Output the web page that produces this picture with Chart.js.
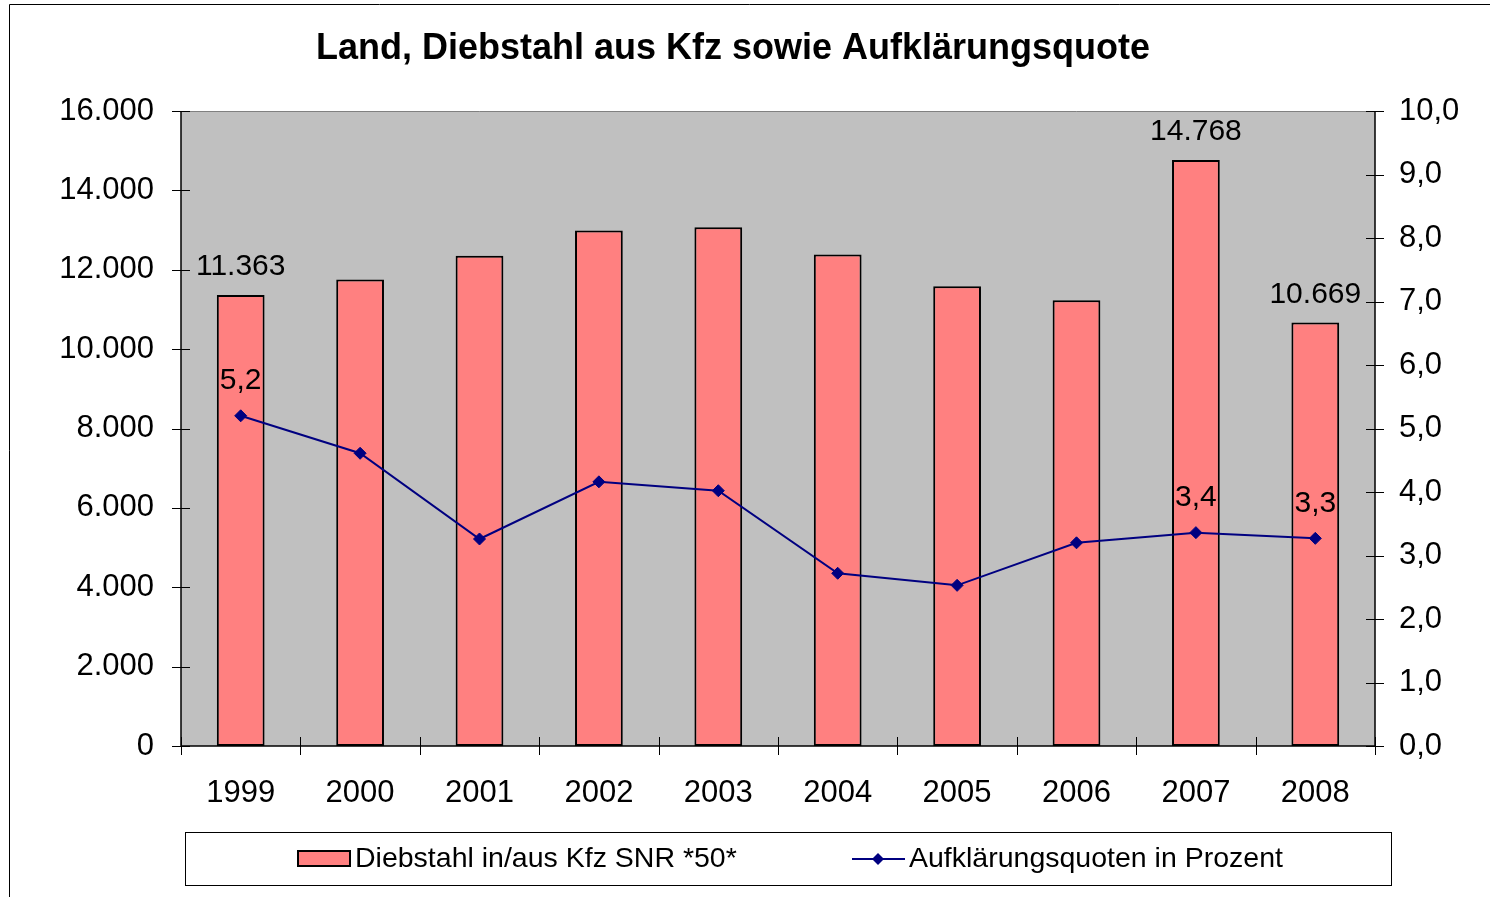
<!DOCTYPE html>
<html>
<head>
<meta charset="utf-8">
<script src="https://cdn.jsdelivr.net/npm/chart.js@4.4.1/dist/chart.umd.min.js"></script>
<style>
  body { margin: 0; background: #fff; }
  #wrap { width: 1490px; height: 897px; }
</style>
</head>
<body>
<div id="wrap"><canvas id="chart" width="1490" height="897"></canvas></div>
<script>
// data
const years = ['1999', '2000', '2001', '2002', '2003', '2004', '2005', '2006', '2007', '2008'];
const diebstahl = [11363, 11755, 12353, 12990, 13074, 12385, 11586, 11233, 14768, 10669];
const quote = [5.2, 4.61, 3.26, 4.16, 4.02, 2.72, 2.53, 3.2, 3.36, 3.27];
const labelledYears = ['1999', '2007', '2008'];
const leftTicks = [0, 2000, 4000, 6000, 8000, 10000, 12000, 14000, 16000];
const rightTicks = [0, 1, 2, 3, 4, 5, 6, 7, 8, 9, 10];

const titleText = 'Land, Diebstahl aus Kfz sowie Aufklärungsquote';
const barName = 'Diebstahl in/aus Kfz SNR *50*';
const lineName = 'Aufklärungsquoten in Prozent';

const FONT = '"Liberation Sans", Arial, sans-serif';
const BAR_FILL = '#FF8080';
const LINE_COL = '#000080';

const fmtThousands = (n) => String(n).replace(/\B(?=(\d{3})+(?!\d))/g, '.');
const fmtComma = (n) => n.toFixed(1).replace('.', ',');

// grey plot area, frame, title, legend box
const decor = {
  id: 'decor',
  beforeDraw(chart) {
    const { ctx, chartArea: a } = chart;
    ctx.save();
    ctx.fillStyle = '#fff';
    ctx.fillRect(0, 0, chart.width, chart.height);
    ctx.fillStyle = '#C0C0C0';
    ctx.fillRect(a.left, a.top, a.right - a.left, a.bottom - a.top);
    // outer chart frame
    ctx.strokeStyle = '#000';
    ctx.lineWidth = 1;
    ctx.beginPath();
    ctx.moveTo(9.5, 897);
    ctx.lineTo(9.5, 4.5);
    ctx.lineTo(1490, 4.5);
    ctx.stroke();
    // title
    ctx.fillStyle = '#000';
    ctx.font = 'bold 36px ' + FONT;
    ctx.textAlign = 'center';
    ctx.textBaseline = 'middle';
    ctx.fillText(titleText, 733, 49);
    ctx.restore();
  },
  afterDatasetsDraw(chart) {
    const { ctx, chartArea: a, scales } = chart;
    ctx.save();
    ctx.lineWidth = 1;
    // plot area top border
    ctx.strokeStyle = '#808080';
    ctx.beginPath();
    ctx.moveTo(a.left, a.top + 0.5);
    ctx.lineTo(a.right, a.top + 0.5);
    ctx.stroke();
    // axes
    ctx.strokeStyle = '#000';
    ctx.lineWidth = 1.5;
    ctx.beginPath();
    ctx.moveTo(a.left, a.top);
    ctx.lineTo(a.left, a.bottom);
    ctx.moveTo(a.right, a.top);
    ctx.lineTo(a.right, a.bottom);
    ctx.moveTo(a.left, a.bottom);
    ctx.lineTo(a.right, a.bottom);
    ctx.stroke();
    ctx.lineWidth = 1;
    ctx.beginPath();
    scales.y.ticks.forEach((t) => {
      const y = Math.round(scales.y.getPixelForValue(t.value)) + 0.5;
      ctx.moveTo(a.left - 9, y);
      ctx.lineTo(a.left + 9, y);
    });
    scales.y1.ticks.forEach((t) => {
      const y = Math.round(scales.y1.getPixelForValue(t.value)) + 0.5;
      ctx.moveTo(a.right - 9, y);
      ctx.lineTo(a.right + 9, y);
    });
    for (let i = 0; i <= years.length; i++) {
      const x = Math.round(scales.x.getPixelForValue(i - 0.5)) + 0.5;
      ctx.moveTo(x, a.bottom - 9);
      ctx.lineTo(x, a.bottom + 9);
    }
    ctx.stroke();

    // value labels on selected years
    ctx.fillStyle = '#000';
    ctx.font = '30px ' + FONT;
    ctx.textAlign = 'center';
    ctx.textBaseline = 'middle';
    const bars = chart.getDatasetMeta(0).data;
    const pts = chart.getDatasetMeta(1).data;
    labelledYears.forEach((yr) => {
      const i = years.indexOf(yr);
      ctx.fillText(fmtThousands(diebstahl[i]), bars[i].x, bars[i].y - 28);
      ctx.fillText(fmtComma(quote[i]), pts[i].x, pts[i].y - 35);
    });

    // legend
    ctx.strokeStyle = '#000';
    ctx.lineWidth = 1;
    ctx.strokeRect(185.5, 832.5, 1206, 53);
    ctx.fillStyle = BAR_FILL;
    ctx.fillRect(298, 851, 52, 15);
    ctx.lineWidth = 2;
    ctx.strokeRect(298, 851, 52, 15);
    ctx.strokeStyle = LINE_COL;
    ctx.beginPath();
    ctx.moveTo(852, 859);
    ctx.lineTo(905, 859);
    ctx.stroke();
    ctx.fillStyle = LINE_COL;
    ctx.beginPath();
    ctx.moveTo(878, 853);
    ctx.lineTo(884, 859);
    ctx.lineTo(878, 865);
    ctx.lineTo(872, 859);
    ctx.closePath();
    ctx.fill();
    ctx.fillStyle = '#000';
    ctx.font = '28.5px ' + FONT;
    ctx.textAlign = 'left';
    ctx.fillText(barName, 355, 859);
    ctx.fillText(lineName, 909, 859);
    ctx.restore();
  }
};

new Chart(document.getElementById('chart').getContext('2d'), {
  data: {
    labels: years,
    datasets: [
      {
        type: 'bar',
        label: barName,
        data: diebstahl,
        yAxisID: 'y',
        backgroundColor: BAR_FILL,
        borderColor: '#000',
        borderWidth: 2,
        borderSkipped: false,
        barPercentage: 0.4,
        categoryPercentage: 1,
        order: 2,
      },
      {
        type: 'line',
        label: lineName,
        data: quote,
        yAxisID: 'y1',
        borderColor: LINE_COL,
        backgroundColor: LINE_COL,
        borderWidth: 2,
        tension: 0,
        pointStyle: 'rectRot',
        pointRadius: 6,
        pointBorderWidth: 1,
        order: 1,
      },
    ],
  },
  options: {
    responsive: false,
    animation: false,
    layout: { padding: { top: 111, left: 0, right: 0, bottom: 0 } },
    plugins: {
      legend: { display: false },
      title: { display: false },
      tooltip: { enabled: false },
    },
    scales: {
      x: {
        offset: true,
        grid: { display: false },
        border: { display: false },
        ticks: { color: '#000', font: { family: FONT, size: 31 }, padding: 21 },
        afterFit: (s) => { s.height = 151; },
      },
      y: {
        position: 'left',
        min: 0,
        max: 16000,
        afterBuildTicks: (s) => { s.ticks = leftTicks.map((v) => ({ value: v })); },
        grid: { display: false },
        border: { display: false },
        ticks: { color: '#000', font: { family: FONT, size: 31 }, padding: 19, callback: (v) => fmtThousands(v) },
        afterFit: (s) => { s.width = 181; },
      },
      y1: {
        position: 'right',
        min: 0,
        max: 10,
        afterBuildTicks: (s) => { s.ticks = rightTicks.map((v) => ({ value: v })); },
        grid: { display: false },
        border: { display: false },
        ticks: { color: '#000', font: { family: FONT, size: 31 }, padding: 16, callback: (v) => fmtComma(v) },
        afterFit: (s) => { s.width = 115; },
      },
    },
  },
  plugins: [decor],
});
</script>
</body>
</html>
